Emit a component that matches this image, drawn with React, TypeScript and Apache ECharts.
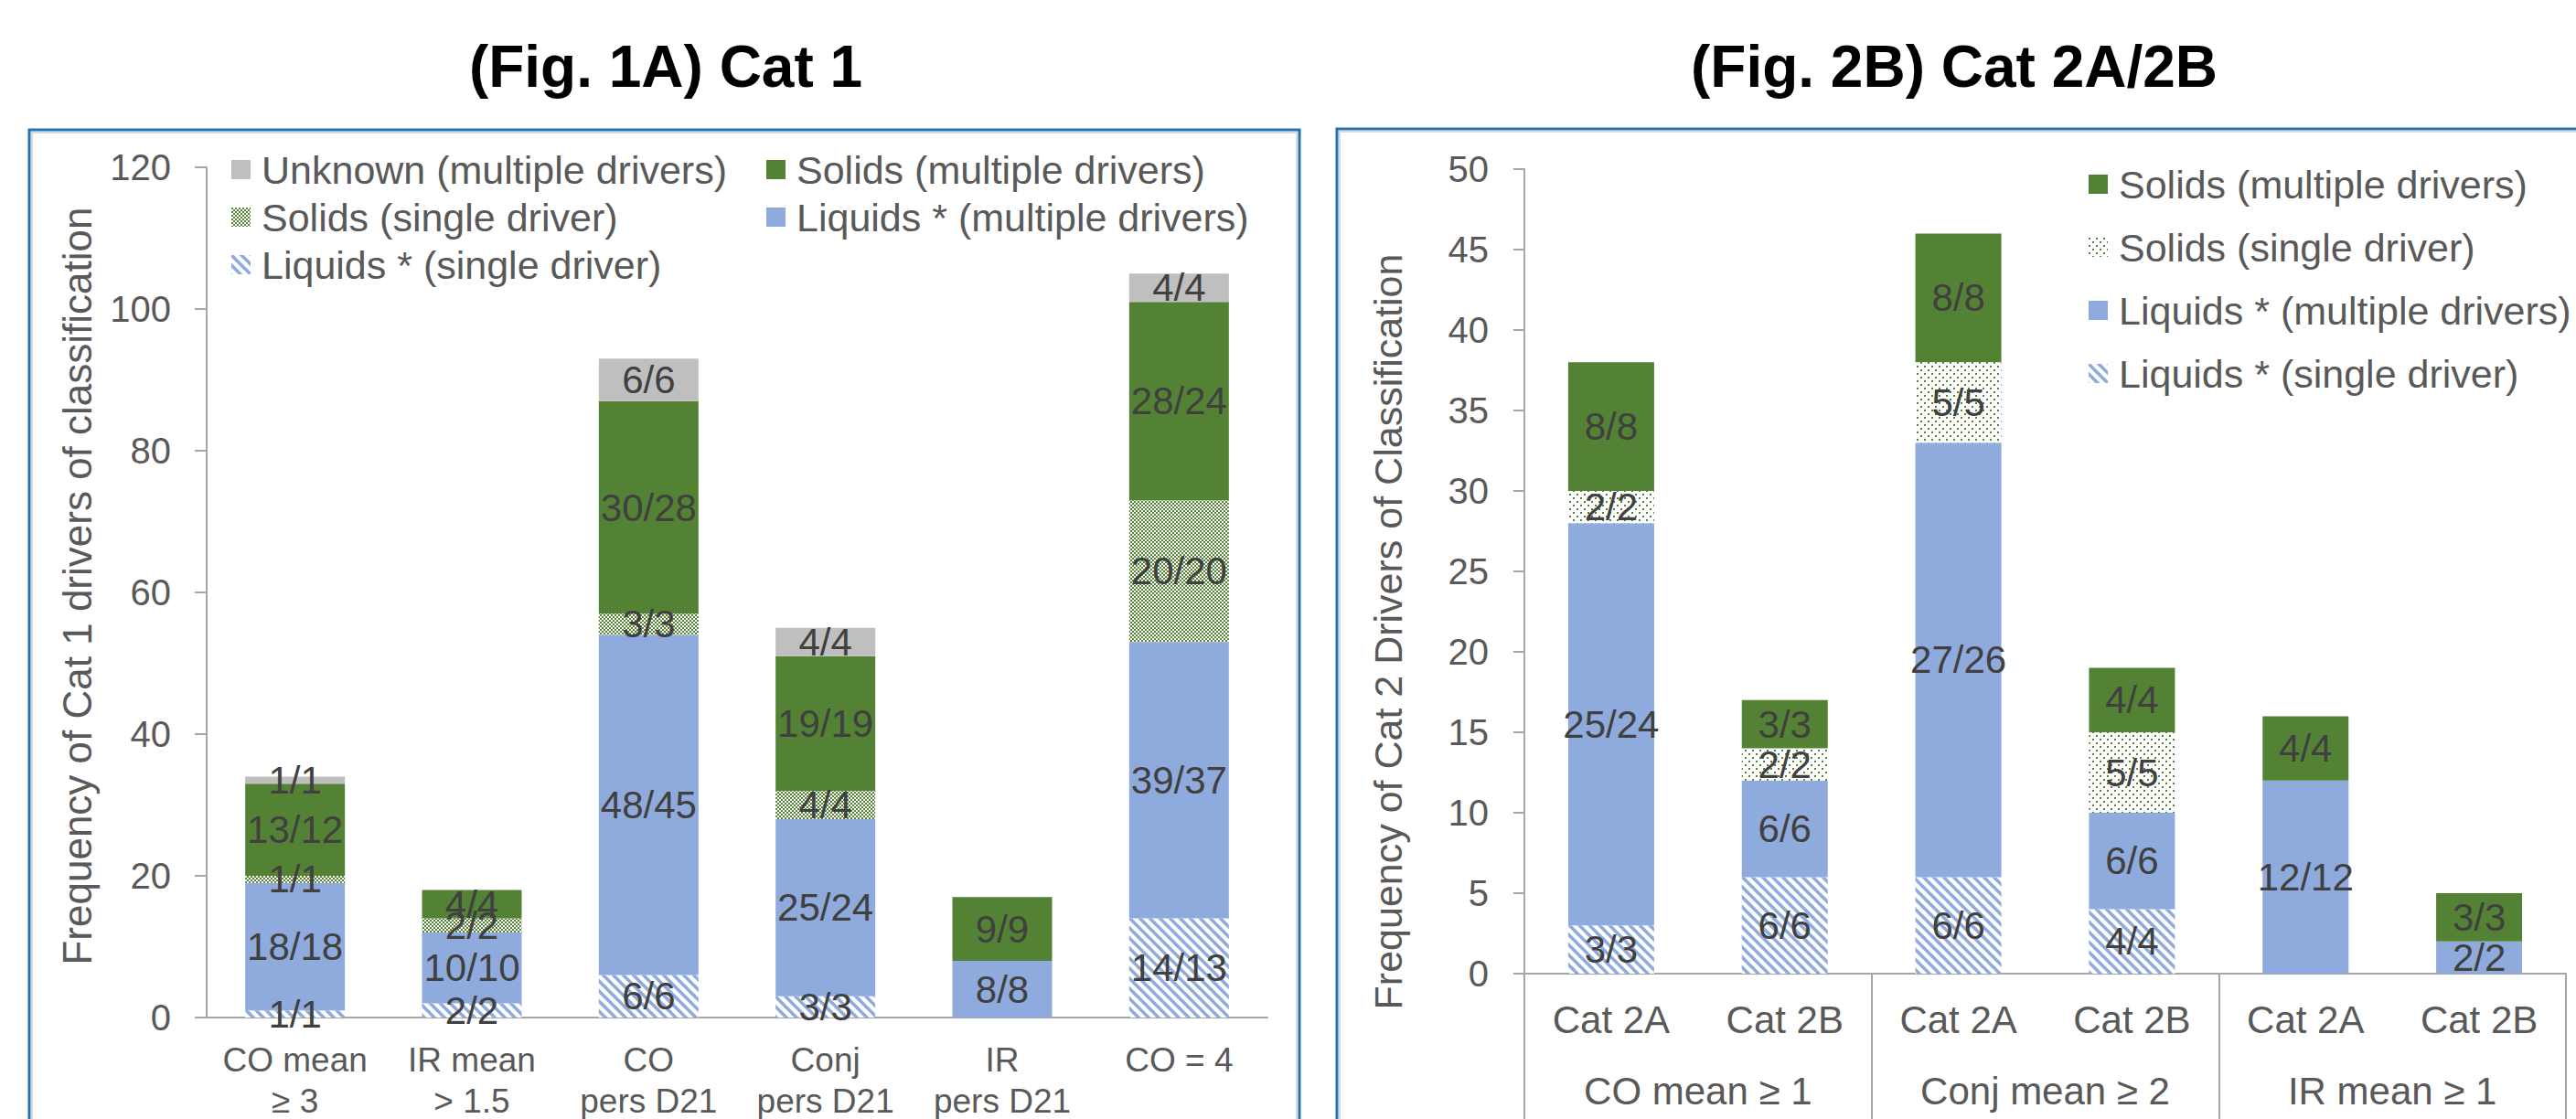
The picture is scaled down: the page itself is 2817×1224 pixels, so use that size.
import React, { useEffect, useRef } from 'react';
import * as echarts from 'echarts';

const FONT = '"Liberation Sans", Arial, Helvetica, sans-serif';

// ---------- Fig. 1A  Cat 1 ----------
const cat1Categories = ['CO mean\n≥ 3', 'IR mean\n> 1.5', 'CO\npers D21', 'Conj\npers D21', 'IR\npers D21', 'CO = 4'];
const cat1LiquidsSingle = [1, 2, 6, 3, 0, 14];
const cat1LiquidsSingleOf = [1, 2, 6, 3, 0, 13];
const cat1LiquidsMultiple = [18, 10, 48, 25, 8, 39];
const cat1LiquidsMultipleOf = [18, 10, 45, 24, 8, 37];
const cat1SolidsSingle = [1, 2, 3, 4, 0, 20];
const cat1SolidsSingleOf = [1, 2, 3, 4, 0, 20];
const cat1SolidsMultiple = [13, 4, 30, 19, 9, 28];
const cat1SolidsMultipleOf = [12, 4, 28, 19, 9, 24];
const cat1Unknown = [1, 0, 6, 4, 0, 4];
const cat1UnknownOf = [1, 0, 6, 4, 0, 4];
const cat1AxisMin = 0;
const cat1AxisMax = 120;
const cat1AxisStep = 20;

// ---------- Fig. 2B  Cat 2A/2B ----------
const cat2Categories = ['Cat 2A', 'Cat 2B', 'Cat 2A', 'Cat 2B', 'Cat 2A', 'Cat 2B'];
const cat2Groups = ['CO mean ≥ 1', 'Conj mean ≥ 2', 'IR mean ≥ 1'];
const cat2LiquidsSingle = [3, 6, 6, 4, 0, 0];
const cat2LiquidsSingleOf = [3, 6, 6, 4, 0, 0];
const cat2LiquidsMultiple = [25, 6, 27, 6, 12, 2];
const cat2LiquidsMultipleOf = [24, 6, 26, 6, 12, 2];
const cat2SolidsSingle = [2, 2, 5, 5, 0, 0];
const cat2SolidsSingleOf = [2, 2, 5, 5, 0, 0];
const cat2SolidsMultiple = [8, 3, 8, 4, 4, 3];
const cat2SolidsMultipleOf = [8, 3, 8, 4, 4, 3];
const cat2AxisMin = 0;
const cat2AxisMax = 50;
const cat2AxisStep = 5;

const N_UNKNOWN = 'Unknown (multiple drivers)';
const N_SOL_M = 'Solids (multiple drivers)';
const N_SOL_S = 'Solids (single driver)';
const N_LIQ_M = 'Liquids * (multiple drivers)';
const N_LIQ_S = 'Liquids * (single driver)';

const BLUE = '#8faadc';
const GREEN = '#548235';
const GRAY = '#bfbfbf';
const AXIS = '#a6a6a6';
const TXT = '#595959';
const LBL = '#404040';

function makeCanvas(size: number, draw: (ctx: CanvasRenderingContext2D) => void) {
  const c = document.createElement('canvas');
  c.width = size;
  c.height = size;
  const ctx = c.getContext('2d')!;
  ctx.fillStyle = '#ffffff';
  ctx.fillRect(0, 0, size, size);
  draw(ctx);
  return { image: c, repeat: 'repeat', imageWidth: size, imageHeight: size } as any;
}

function makePatterns() {
  const hatch = makeCanvas(11, (ctx) => {
    ctx.strokeStyle = BLUE;
    ctx.lineWidth = 3.6;
    for (const o of [-11, 0, 11]) {
      ctx.beginPath();
      ctx.moveTo(o - 2, -2);
      ctx.lineTo(o + 13, 13);
      ctx.stroke();
    }
  });
  const denseDots = makeCanvas(4, (ctx) => {
    ctx.fillStyle = GREEN;
    ctx.fillRect(0, 0, 2, 2);
    ctx.fillRect(2, 2, 2, 2);
  });
  const sparseDots = makeCanvas(8, (ctx) => {
    ctx.fillStyle = GREEN;
    ctx.fillRect(0, 0, 2, 2);
    ctx.fillRect(4, 4, 2, 2);
  });
  return { hatch, denseDots, sparseDots };
}

function bar(name: string, data: number[], of: number[], color: any, gridIdx: number, xAxisIndex: number, barWidth: number) {
  return {
    type: 'bar',
    name,
    data,
    stack: 'g' + gridIdx,
    xAxisIndex,
    yAxisIndex: gridIdx,
    barWidth,
    itemStyle: { color },
    emphasis: { disabled: true },
    label: {
      show: true,
      position: 'inside',
      formatter: (p: any) => (p.value ? `${p.value}/${of[p.dataIndex]}` : ''),
      color: LBL,
      fontSize: 42,
      fontFamily: FONT,
    },
  };
}

export default function App() {
  const ref = useRef<HTMLDivElement>(null);
  useEffect(() => {
    const chart = echarts.init(ref.current!, null, { renderer: 'svg' });
    const P = makePatterns();
    const legendText = { color: TXT, fontSize: 43, lineHeight: 43, fontFamily: FONT, padding: [0, 0, 0, 7] };
    const axisLine = { show: true, lineStyle: { color: AXIS, width: 2 } };
    const option: any = {
      animation: false,
      backgroundColor: '#ffffff',
      graphic: [
        { type: 'rect', silent: true, z: -1, shape: { x: 35, y: 145, width: 1383, height: 1200 }, style: { fill: 'none', stroke: '#d9d9d9', lineWidth: 2 } },
        { type: 'rect', silent: true, z: -1, shape: { x: 32, y: 142, width: 1389, height: 1200 }, style: { fill: 'none', stroke: '#2372b2', lineWidth: 3 } },
        { type: 'rect', silent: true, z: -1, shape: { x: 1465, y: 144, width: 1400, height: 1200 }, style: { fill: 'none', stroke: '#d9d9d9', lineWidth: 2 } },
        { type: 'rect', silent: true, z: -1, shape: { x: 1462, y: 141, width: 1400, height: 1200 }, style: { fill: 'none', stroke: '#2372b2', lineWidth: 3 } },
        { type: 'text', x: 728, y: 73, style: { text: '(Fig. 1A) Cat 1', fontSize: 64, fontWeight: 'bold', fontFamily: FONT, fill: '#000000', align: 'center', verticalAlign: 'middle', textAlign: 'center', textVerticalAlign: 'middle' } },
        { type: 'text', x: 2137, y: 73, style: { text: '(Fig. 2B) Cat 2A/2B', fontSize: 64, fontWeight: 'bold', fontFamily: FONT, fill: '#000000', align: 'center', verticalAlign: 'middle', textAlign: 'center', textVerticalAlign: 'middle' } },
        { type: 'text', x: 84, y: 641, rotation: Math.PI / 2, style: { text: 'Frequency of Cat 1 drivers of classification', fontSize: 44, fontFamily: FONT, fill: TXT, align: 'center', verticalAlign: 'middle', textAlign: 'center', textVerticalAlign: 'middle' } },
        { type: 'text', x: 1518, y: 691, rotation: Math.PI / 2, style: { text: 'Frequency of Cat 2 Drivers of Classification', fontSize: 43, fontFamily: FONT, fill: TXT, align: 'center', verticalAlign: 'middle', textAlign: 'center', textVerticalAlign: 'middle' } },
      ],
      legend: [
        { orient: 'vertical', left: 248, top: 159, itemWidth: 21, itemHeight: 21, itemGap: 9, icon: 'rect', selectedMode: false, textStyle: legendText, data: [N_UNKNOWN, N_SOL_S, N_LIQ_S] },
        { orient: 'vertical', left: 833, top: 159, itemWidth: 21, itemHeight: 21, itemGap: 9, icon: 'rect', selectedMode: false, textStyle: legendText, data: [N_SOL_M, N_LIQ_M] },
        {
          orient: 'vertical', left: 2279, top: 175, itemWidth: 21, itemHeight: 21, itemGap: 26, icon: 'rect', selectedMode: false, textStyle: legendText,
          data: [
            { name: N_SOL_M },
            { name: N_SOL_S, itemStyle: { color: P.sparseDots } },
            { name: N_LIQ_M },
            { name: N_LIQ_S },
          ],
        },
      ],
      grid: [
        { left: 226, right: 2817 - 1386, top: 183, bottom: 1224 - 1113, containLabel: false, outerBoundsMode: 'none' },
        { left: 1667, right: 2817 - 2806, top: 185, bottom: 1224 - 1065, containLabel: false, outerBoundsMode: 'none' },
      ],
      xAxis: [
        {
          type: 'category', gridIndex: 0, data: cat1Categories,
          axisLine, axisTick: { show: false },
          axisLabel: { interval: 0, margin: 24, color: TXT, fontSize: 37, lineHeight: 45, fontFamily: FONT },
        },
        {
          type: 'category', gridIndex: 1, data: cat2Categories,
          axisLine, axisTick: { show: false },
          axisLabel: { interval: 0, margin: 29, color: TXT, fontSize: 42, lineHeight: 42, fontFamily: FONT },
        },
        {
          type: 'category', gridIndex: 1, data: cat2Groups, position: 'bottom',
          axisLine: { show: false },
          axisTick: { show: true, interval: 0, length: 175, lineStyle: { color: AXIS, width: 2 } },
          axisLabel: { interval: 0, margin: 107, color: TXT, fontSize: 42, lineHeight: 42, fontFamily: FONT },
        },
      ],
      yAxis: [
        {
          type: 'value', gridIndex: 0, min: cat1AxisMin, max: cat1AxisMax, interval: cat1AxisStep,
          axisLine, axisTick: { show: true, length: 13, lineStyle: { color: AXIS, width: 2 } },
          splitLine: { show: false },
          axisLabel: { margin: 39, color: TXT, fontSize: 40, fontFamily: FONT },
        },
        {
          type: 'value', gridIndex: 1, min: cat2AxisMin, max: cat2AxisMax, interval: cat2AxisStep,
          axisLine, axisTick: { show: true, length: 12, lineStyle: { color: AXIS, width: 2 } },
          splitLine: { show: false },
          axisLabel: { margin: 39, color: TXT, fontSize: 40, fontFamily: FONT },
        },
      ],
      series: [
        bar(N_LIQ_S, cat1LiquidsSingle, cat1LiquidsSingleOf, P.hatch, 0, 0, 109),
        bar(N_LIQ_M, cat1LiquidsMultiple, cat1LiquidsMultipleOf, BLUE, 0, 0, 109),
        bar(N_SOL_S, cat1SolidsSingle, cat1SolidsSingleOf, P.denseDots, 0, 0, 109),
        bar(N_SOL_M, cat1SolidsMultiple, cat1SolidsMultipleOf, GREEN, 0, 0, 109),
        bar(N_UNKNOWN, cat1Unknown, cat1UnknownOf, GRAY, 0, 0, 109),
        bar(N_LIQ_S, cat2LiquidsSingle, cat2LiquidsSingleOf, P.hatch, 1, 1, 94),
        bar(N_LIQ_M, cat2LiquidsMultiple, cat2LiquidsMultipleOf, BLUE, 1, 1, 94),
        bar(N_SOL_S, cat2SolidsSingle, cat2SolidsSingleOf, P.sparseDots, 1, 1, 94),
        bar(N_SOL_M, cat2SolidsMultiple, cat2SolidsMultipleOf, GREEN, 1, 1, 94),
      ],
    };
    chart.setOption(option);
    return () => chart.dispose();
  }, []);
  return (
    <div
      ref={ref}
      style={{ position: 'fixed', left: 0, top: 0, width: 2817, height: 1224, background: '#ffffff' }}
    />
  );
}
